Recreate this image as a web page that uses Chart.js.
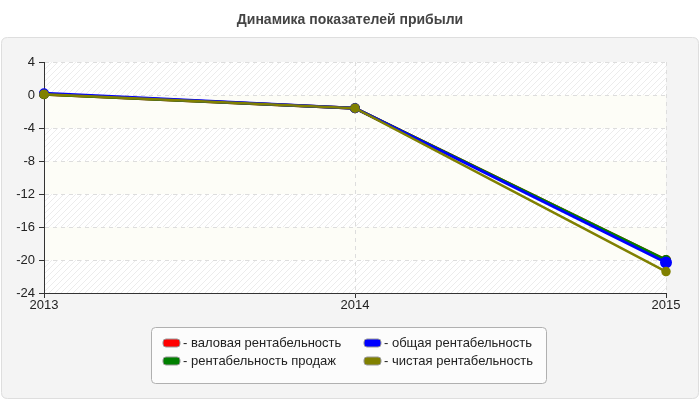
<!DOCTYPE html>
<html><head><meta charset="utf-8">
<script src="https://cdn.jsdelivr.net/npm/chart.js@4/dist/chart.umd.min.js"></script>
<style>html,body{margin:0;padding:0;background:#fff}#wrap{width:700px;height:400px}</style>
</head><body><div id="wrap"><canvas id="c" width="700" height="400"></canvas></div>
<script>
const chartTitle = "Динамика показателей прибыли";
const years = ["2013", "2014", "2015"];
const seriesNames = ["валовая рентабельность", "рентабельность продаж", "общая рентабельность", "чистая рентабельность"];
const grossMargin = [0.1, -1.6, -20.0];
const salesMargin = [0.1, -1.6, -20.0];
const totalMargin = [0.2, -1.6, -20.3];
const netMargin = [0.1, -1.6, -21.4];
const seriesColors = ["#ff0000", "#008000", "#0000ff", "#808000"];
const yMin = -24, yMax = 4, yStep = 4;

function makeHatch(ctx){
  const p = document.createElement('canvas'); p.width = 6; p.height = 6;
  const g = p.getContext('2d');
  g.fillStyle = '#ffffff'; g.fillRect(0,0,6,6);
  g.strokeStyle = '#ececec'; g.lineWidth = 1;
  g.beginPath(); g.moveTo(0,6); g.lineTo(6,0); g.moveTo(-3,3); g.lineTo(3,-3); g.moveTo(3,9); g.lineTo(9,3); g.stroke();
  return ctx.createPattern(p,'repeat');
}
function rr(ctx,x,y,w,h,r){ctx.beginPath();ctx.moveTo(x+r,y);ctx.lineTo(x+w-r,y);ctx.quadraticCurveTo(x+w,y,x+w,y+r);ctx.lineTo(x+w,y+h-r);ctx.quadraticCurveTo(x+w,y+h,x+w-r,y+h);ctx.lineTo(x+r,y+h);ctx.quadraticCurveTo(x,y+h,x,y+h-r);ctx.lineTo(x,y+r);ctx.quadraticCurveTo(x,y,x+r,y);ctx.closePath();}

const bgPlugin = {
  id:'bg',
  beforeDraw(chart){
    const ctx = chart.ctx, a = chart.chartArea, ys = chart.scales.y;
    ctx.save();
    ctx.fillStyle='#fff'; ctx.fillRect(0,0,700,400);
    rr(ctx,1.5,37.5,697,361,6); ctx.fillStyle='#f4f4f4'; ctx.fill(); ctx.strokeStyle='#dedede'; ctx.lineWidth=1; ctx.stroke();
    ctx.fillStyle='#444'; ctx.font='bold 14px "Liberation Sans", Arial, sans-serif'; ctx.textAlign='center'; ctx.textBaseline='middle';
    ctx.fillText(chartTitle,350,20);
    const hatch = makeHatch(ctx);
    let i=0;
    for(let v=yMax; v>yMin; v-=yStep, i++){
      const t = ys.getPixelForValue(v), b = ys.getPixelForValue(v-yStep);
      ctx.fillStyle = (i%2===0)? hatch : '#fdfdf7';
      ctx.fillRect(a.left,t,a.right-a.left,b-t);
    }
    ctx.restore();
  },
  afterDraw(chart){
    const ctx = chart.ctx;
    ctx.save();
    rr(ctx,151.5,327.5,395,56,4); ctx.fillStyle='#fcfcfc'; ctx.fill(); ctx.strokeStyle='#b0b0b0'; ctx.lineWidth=1; ctx.stroke();
    ctx.font='13px "Liberation Sans", Arial, sans-serif'; ctx.textBaseline='middle'; ctx.textAlign='left';
    const pos = [[163,343],[163,361],[364,343],[364,361]];
    chart.data.datasets.forEach((ds,k)=>{
      const [x,y]=pos[k];
      rr(ctx,x,y-4,17,8,3); ctx.fillStyle=ds.borderColor; ctx.fill(); ctx.strokeStyle='#999'; ctx.stroke();
      ctx.fillStyle='#222'; ctx.fillText('- '+ds.label,x+20,y+0.5);
    });
    ctx.restore();
  }
};

const dsVals = [grossMargin, salesMargin, totalMargin, netMargin];
const widths = [3,3,3,2.5];
const drawOrder = [4,3,2,1];
const tickFont = {size:13, family:'"Liberation Sans", Arial, sans-serif'};
new Chart(document.getElementById('c'),{
  type:'line',
  data:{labels:years, datasets: dsVals.map((d,k)=>({label:seriesNames[k], data:d, order:drawOrder[k], borderColor:seriesColors[k], backgroundColor:seriesColors[k], borderWidth:widths[k], pointRadius:(c)=> (k===2 && c.dataIndex===2)?4.5:3.5, pointHoverRadius:4, tension:0, fill:false}))},
  options:{
    responsive:false, animation:false, devicePixelRatio:1,
    layout:{padding:{left:0,right:34,top:62,bottom:87}},
    plugins:{legend:{display:false},title:{display:false},tooltip:{enabled:false}},
    scales:{
      x:{type:'category', offset:false,
        grid:{color:'#dddddd', tickColor:'#333', tickLength:5, tickBorderDash:[]},
        border:{color:'#333', width:1, dash:[4,4]},
        ticks:{color:'#222', font:tickFont, padding:0, maxRotation:0},
        afterFit(s){s.height=20;}
      },
      y:{min:yMin,max:yMax,
        grid:{color:'#dddddd', tickColor:'#333', tickLength:5, tickBorderDash:[]},
        border:{color:'#333', width:1, dash:[4,4]},
        ticks:{stepSize:yStep, color:'#222', font:tickFont, padding:4},
        afterFit(s){s.width=44;}
      }
    }
  },
  plugins:[bgPlugin]
});
</script></body></html>
